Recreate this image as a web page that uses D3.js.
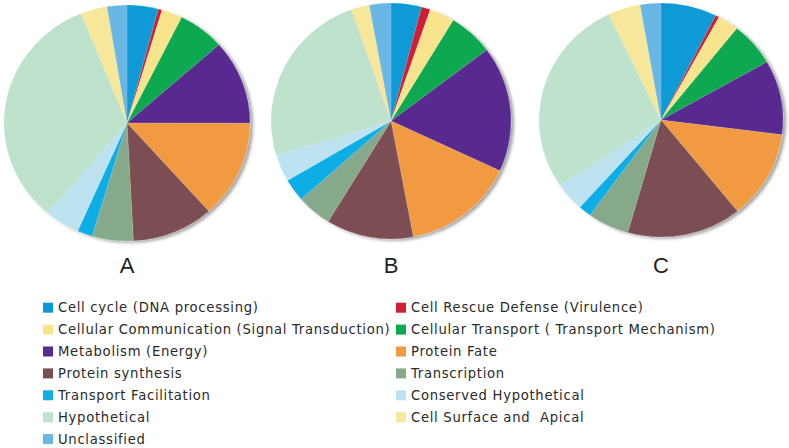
<!DOCTYPE html>
<html><head><meta charset="utf-8">
<script src="https://cdn.jsdelivr.net/npm/d3@7"></script>
<style>html,body{margin:0;padding:0;background:#fff;}svg{display:block;}</style>
</head><body>
<svg id="chart" width="789" height="448"></svg>
<script>
const categories = [
  "Cell cycle (DNA processing)",
  "Cell Rescue Defense (Virulence)",
  "Cellular Communication (Signal Transduction)",
  "Cellular Transport ( Transport Mechanism)",
  "Metabolism (Energy)",
  "Protein Fate",
  "Protein synthesis",
  "Transcription",
  "Transport Facilitation",
  "Conserved Hypothetical",
  "Hypothetical",
  "Cell Surface and  Apical",
  "Unclassified"
];
const colors = ["#0b9ad6","#d11f35","#f7e48c","#0aa84f","#582c8f","#f19a42","#7b4e52","#86a98b","#11aee6","#bde3f1","#bfe2cd","#f6e79a","#69b7e5"];
const seriesNames = ["A","B","C"];
const valuesA = [4.1, 0.5, 2.75, 6.1, 11.6, 13.4, 10.75, 5.4, 2.0, 4.6, 32.75, 3.5, 2.6];
const valuesB = [4.1, 1.2, 3.4, 6.0, 17.2, 15.1, 11.75, 4.7, 3.1, 3.75, 24.3, 2.45, 2.9];
const valuesC = [7.4, 0.5, 2.8, 6.05, 10.3, 12.2, 15.2, 5.5, 1.7, 4.0, 27.4, 4.3, 2.75];
const series = [valuesA, valuesB, valuesC];

// layout
const pies = [
  {cx:127, cy:123, rx:123, ry:118},
  {cx:391, cy:121, rx:120, ry:118},
  {cx:661, cy:120, rx:122, ry:117}
];
const labelY = 267;

const svg = d3.select("#chart");
const defs = svg.append("defs");
const f = defs.append("filter").attr("id","sh").attr("x","-10%").attr("y","-10%").attr("width","120%").attr("height","120%");
f.append("feDropShadow").attr("dx",2.5).attr("dy",1.5).attr("stdDeviation",1.5).attr("flood-color","#000").attr("flood-opacity",0.35);

const color = d3.scaleOrdinal().domain(categories).range(colors);
const pie = d3.pie().sort(null).value(d => d.v);
const arc = d3.arc().innerRadius(0).outerRadius(100);

series.forEach((vals, i) => {
  const p = pies[i];
  const g = svg.append("g")
    .attr("transform", `translate(${p.cx},${p.cy}) scale(${p.rx/100},${p.ry/100})`)
    .attr("filter","url(#sh)");
  const data = categories.map((c, j) => ({c, v: vals[j]}));
  g.selectAll("path").data(pie(data)).join("path")
    .attr("d", arc)
    .attr("fill", d => color(d.data.c))
    .attr("stroke", "rgba(255,255,255,0.35)")
    .attr("stroke-width", 0.3);
  svg.append("text")
    .attr("x", p.cx).attr("y", labelY)
    .attr("text-anchor","middle").attr("dominant-baseline","middle")
    .attr("font-family","Liberation Sans, Arial, sans-serif")
    .attr("font-size", 22).attr("fill","#222")
    .text(seriesNames[i]);
});

// legend
const leg = svg.append("g");
const rowY0 = 307.7, rowH = 21.9;
categories.forEach((c, j) => {
  const col = j % 2, row = Math.floor(j / 2);
  const sx = col === 0 ? 43 : 396;
  const y = rowY0 + row * rowH;
  leg.append("rect").attr("x", sx).attr("y", y - 5).attr("width", 10).attr("height", 10).attr("fill", color(c));
  leg.append("text").attr("x", sx + 15).attr("y", y)
    .attr("dominant-baseline","central")
    .attr("font-family","DejaVu Sans, Verdana, sans-serif")
    .attr("font-size", 13.2).attr("letter-spacing", 0.7)
    .style("white-space","pre")
    .attr("fill","#2a2a2a")
    .text(c);
});
</script>
</body></html>
